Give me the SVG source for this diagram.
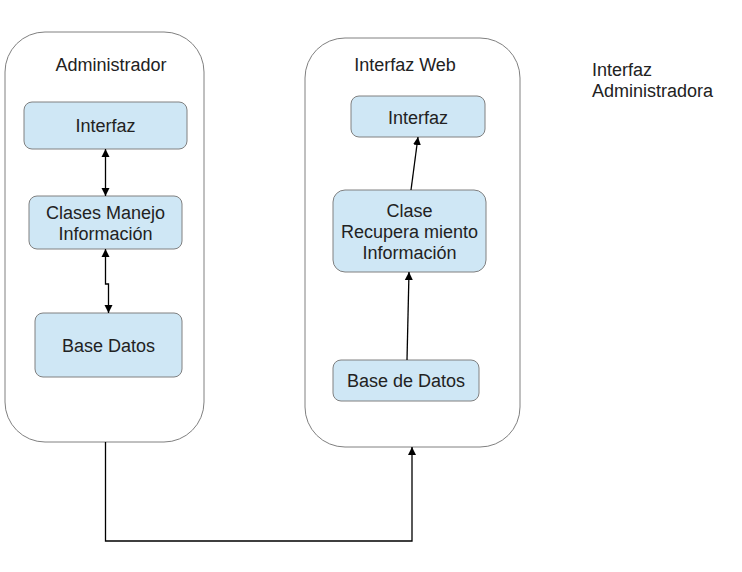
<svg xmlns="http://www.w3.org/2000/svg" width="742" height="572" viewBox="0 0 742 572">
<style>
.cont{fill:#fff;stroke:#808080;stroke-width:1}
.node{fill:#cfe7f5;stroke:#808080;stroke-width:1}
text{font-family:"Liberation Sans",Arial,sans-serif;font-size:18px;fill:#222}
.c{text-anchor:middle}
.conn{fill:none;stroke:#000;stroke-width:1.3}
</style>
<defs>
<marker id="ah" viewBox="0 0 10 10" refX="10" refY="5" markerWidth="8" markerHeight="12" markerUnits="userSpaceOnUse" orient="auto-start-reverse">
<path d="M0,0 L10,5 L0,10 z" fill="#000"/>
</marker>
</defs>
<rect width="742" height="572" fill="#fff"/>
<g id="admin-container">
<rect class="cont" x="5" y="32" width="199" height="410" rx="40" ry="40"/>
<text x="111" y="71" class="c">Administrador</text>
</g>
<g id="web-container">
<rect class="cont" x="305" y="38" width="215" height="409" rx="40" ry="40"/>
<text x="405" y="71" class="c">Interfaz Web</text>
</g>
<g id="label-admin">
<text x="592" y="76">Interfaz</text>
<text x="592" y="97">Administradora</text>
</g>
<g id="a-interfaz">
<rect class="node" x="24" y="102" width="163" height="47" rx="8"/>
<text x="105.5" y="132" class="c">Interfaz</text>
</g>
<g id="a-clases">
<rect class="node" x="29" y="196" width="153" height="53" rx="8"/>
<text x="105.5" y="219" class="c">Clases Manejo</text>
<text x="105.5" y="240" class="c">Información</text>
</g>
<g id="a-base">
<rect class="node" x="35" y="313" width="147" height="64" rx="8"/>
<text x="108.5" y="352" class="c">Base Datos</text>
</g>
<g id="w-interfaz">
<rect class="node" x="351" y="96" width="134" height="41" rx="8"/>
<text x="418" y="124" class="c">Interfaz</text>
</g>
<g id="w-clase">
<rect class="node" x="333" y="190" width="153" height="82" rx="12"/>
<text x="409.5" y="217" class="c">Clase</text>
<text x="409.5" y="238" class="c">Recupera miento</text>
<text x="409.5" y="259" class="c">Información</text>
</g>
<g id="w-base">
<rect class="node" x="333" y="360" width="146" height="41" rx="8"/>
<text x="406" y="387" class="c">Base de Datos</text>
</g>
<g id="connectors">
<path class="conn" d="M105.5,149 L105.5,196" marker-start="url(#ah)" marker-end="url(#ah)"/>
<path class="conn" d="M105.5,249 L105.5,284 L108.5,284 L108.5,313" marker-start="url(#ah)" marker-end="url(#ah)"/>
<path class="conn" d="M411,190 L418,137" marker-end="url(#ah)"/>
<path class="conn" d="M407,360 L409,272" marker-end="url(#ah)"/>
<path class="conn" d="M105.5,442 L105.5,541 L412,541 L412,447" marker-end="url(#ah)"/>
</g>
</svg>
